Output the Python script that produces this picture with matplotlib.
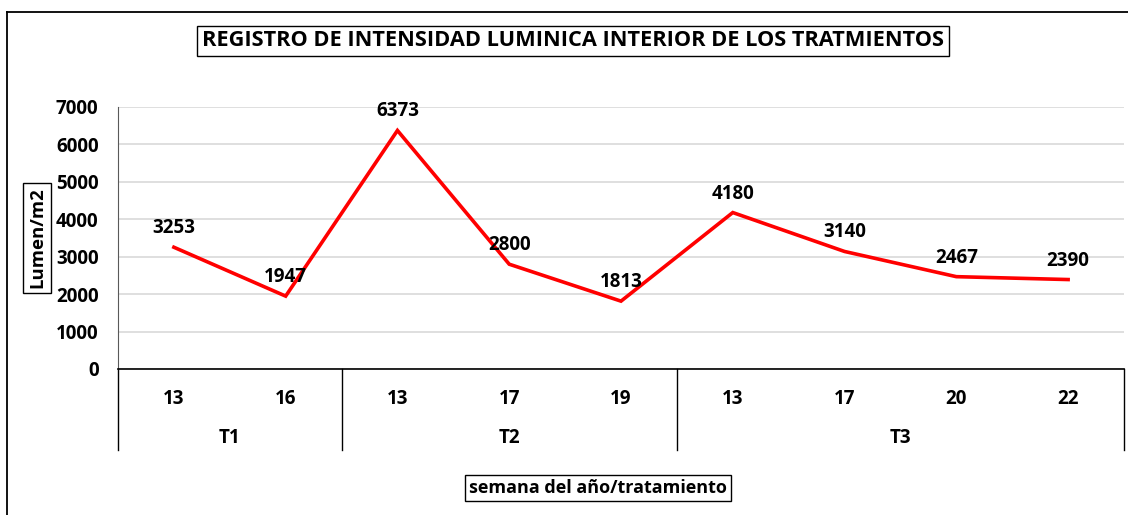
import matplotlib
matplotlib.use("Agg")
import matplotlib.pyplot as plt
import matplotlib.transforms as mtransforms
from matplotlib.lines import Line2D

plt.rcParams['font.family'] = ['Open Sans', 'DejaVu Sans']

weeks = ["13", "16", "13", "17", "19", "13", "17", "20", "22"]
groups = ["T1", "T2", "T3"]
group_sizes = [2, 3, 4]
values = [3253, 1947, 6373, 2800, 1813, 4180, 3140, 2467, 2390]
yticks = [0, 1000, 2000, 3000, 4000, 5000, 6000, 7000]

title = "REGISTRO DE INTENSIDAD LUMINICA INTERIOR DE LOS TRATMIENTOS"
ylabel = "Lumen/m2"
xlabel = "semana del año/tratamiento"

FW = 'bold'
W, H = 1128, 515
fig = plt.figure(figsize=(W / 100, H / 100), dpi=100)

fig.add_artist(Line2D([7 / W, 7 / W], [0, 1 - 12 / H], color='black', lw=1.3))
fig.add_artist(Line2D([7 / W, 1], [1 - 12 / H, 1 - 12 / H], color='black', lw=1.3))

left, right, top, bottom = 118, 1124, 107, 369
ax = fig.add_axes([left / W, 1 - bottom / H, (right - left) / W, (bottom - top) / H])

x = list(range(len(values)))
ax.plot(x, values, color='#ff0000', lw=2.6, solid_joinstyle='miter', clip_on=False)
for xi, v in zip(x, values):
    ax.annotate(str(v), (xi, v), xytext=(0, 6.5), textcoords='offset points',
                ha='center', va='bottom', fontsize=13.5, fontweight=FW, color='black')

ax.set_xlim(-0.5, len(values) - 0.5)
ax.set_ylim(0, 7000)
ax.set_yticks(yticks)
ax.set_yticklabels([str(t) for t in yticks], fontsize=13.5, fontweight=FW)
ax.tick_params(axis='y', length=0, pad=14)
ax.grid(axis='y', color='#d9d9d9', lw=1.2)
ax.set_axisbelow(True)
for s in ['top', 'right']:
    ax.spines[s].set_visible(False)
ax.spines['left'].set_color('#595959')
ax.spines['bottom'].set_color('black')
ax.spines['bottom'].set_linewidth(1.2)

ax.set_xticks(x)
ax.set_xticklabels(weeks, fontsize=13.5, fontweight=FW)
ax.tick_params(axis='x', length=0, pad=14.5)

trans = mtransforms.blended_transform_factory(ax.transData, ax.transAxes)
sep_bottom = -(450 - bottom) / (bottom - top)
bounds = [-0.5]
for n in group_sizes:
    bounds.append(bounds[-1] + n)
for b in bounds:
    ax.add_line(Line2D([b, b], [0, sep_bottom], transform=trans, color='black', lw=1.0, clip_on=False))
grp_y = -(438 - bottom) / (bottom - top)
for g, a, b in zip(groups, bounds[:-1], bounds[1:]):
    ax.text((a + b) / 2, grp_y, g, transform=trans, ha='center', va='center',
            fontsize=13.5, fontweight=FW)

fig.text(573 / W, 1 - 41 / H, title, ha='center', va='center', fontsize=15.7, fontweight=FW,
         bbox=dict(boxstyle='square,pad=0.22', fc='white', ec='black', lw=1))
fig.text(598 / W, 1 - 488 / H, xlabel, ha='center', va='center', fontsize=13, fontweight=FW,
         bbox=dict(boxstyle='square,pad=0.2', fc='white', ec='black', lw=1))
fig.text(37 / W, 1 - 238 / H, ylabel, ha='center', va='center', rotation=90, fontsize=13.3,
         fontweight=FW, bbox=dict(boxstyle='square,pad=0.25', fc='white', ec='black', lw=1))

fig.savefig('out.png', dpi=100)
